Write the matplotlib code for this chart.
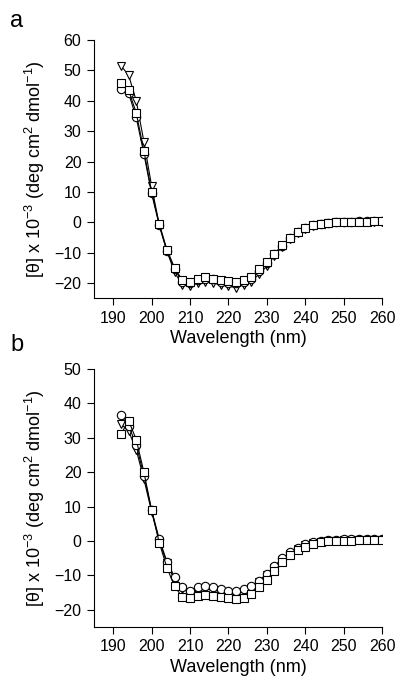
import numpy as np
import matplotlib
matplotlib.use('Agg')
import matplotlib.pyplot as plt

plt.rcParams['font.family'] = ['Liberation Sans', 'DejaVu Sans']

# Wavelength grid (nm), every 2 nm
wavelength = list(range(192, 262, 2))

# Panel a
a_circle = [44, 42.5, 34.5, 22.5, 9.5, -1, -9.5, -15.5, -19.5, -20, -19, -18.5, -18.8, -19.5,
            -20, -20, -19.5, -18.5, -16, -13.5, -10.5, -7.7, -5.2, -3.3, -2, -1, -0.4, -0.1,
            0.1, 0.2, 0.2, 0.3, 0.3, 0.3, 0.3]
a_square = [46, 43.5, 36, 23.5, 10, -0.5, -9, -15, -19, -19.5, -18.5, -18, -18.5, -19,
            -19.3, -19.5, -19, -18, -15.5, -13, -10.3, -7.5, -5, -3.2, -2, -1, -0.4, -0.2,
            0, 0.1, 0.1, 0.2, 0.2, 0.3, 0.3]
a_triangle = [51.5, 48.5, 40, 26.5, 12, -1, -9.5, -16.5, -20.5, -21, -20, -19.5, -20, -20.5,
              -21, -21.5, -20.5, -19.5, -17, -14.5, -11, -8, -5.5, -3.5, -2.2, -1.2, -0.5, -0.2,
              0, 0.1, 0.1, 0.2, 0.2, 0.2, 0.2]

# Panel b
b_circle = [36.5, 33.5, 28, 19, 9, 0.5, -6, -10.5, -13.5, -14.5, -13.5, -13, -13.5, -14,
            -14.5, -14.5, -14, -13, -11.5, -9.5, -7.3, -5, -3.3, -2, -1, -0.3, 0.1, 0.2,
            0.4, 0.6, 0.6, 0.6, 0.5, 0.5, 0.5]
b_square = [31, 35, 29.5, 20, 9, -0.5, -7.8, -13.2, -16.3, -16.7, -16, -15.7, -16, -16.3,
            -16.7, -17, -16.5, -15.3, -13.5, -11.2, -8.7, -6.2, -4.2, -2.7, -1.6, -0.9, -0.4, -0.1,
            0, 0.1, 0.1, 0.2, 0.2, 0.2, 0.2]
b_triangle = [34, 32, 26.5, 18, 8.5, 0, -6.5, -11.5, -14, -15, -14.5, -14, -14.3, -14.7,
              -15, -15.3, -14.8, -13.8, -12, -10, -7.8, -5.5, -3.7, -2.3, -1.3, -0.6, -0.2, 0,
              0.1, 0.2, 0.2, 0.3, 0.3, 0.3, 0.3]

# drawing order: triangles at the back, squares in front
panels = [
    ('a', [a_triangle, a_circle, a_square], (-25, 60), np.arange(-20, 61, 10)),
    ('b', [b_triangle, b_circle, b_square], (-25, 50), np.arange(-20, 51, 10)),
]
markers = ['v', 'o', 's']

fig = plt.figure(figsize=(4.0, 6.89), dpi=100)
rects = [[0.235, 0.567, 0.72, 0.375], [0.235, 0.090, 0.72, 0.3744]]
letter_y = [0.985, 0.515]

for (letter, series, ylim, yticks), rect, ly in zip(panels, rects, letter_y):
    ax = fig.add_axes(rect)
    for vals, m in zip(series, markers):
        ax.plot(wavelength, vals, color='black', linewidth=0.8, marker=m,
                markersize=6, markerfacecolor='white', markeredgecolor='black',
                markeredgewidth=0.8)
    ax.set_xlim(185, 260)
    ax.set_ylim(*ylim)
    ax.set_xticks(np.arange(190, 261, 10))
    ax.set_yticks(yticks)
    ax.spines['top'].set_visible(False)
    ax.spines['right'].set_visible(False)
    ax.tick_params(direction='out', length=5, width=0.8, labelsize=11.5, pad=4)
    ax.set_xlabel('Wavelength (nm)', fontsize=13, labelpad=3)
    ax.set_ylabel(r'[$\mathregular{\theta}$] x 10$^{\mathregular{-3}}$ (deg cm$^{\mathregular{2}}$ dmol$^{\mathregular{-1}}$)',
                  fontsize=13, labelpad=5)
    fig.text(0.025, ly, letter, fontsize=17, va='top', ha='left')

fig.savefig('out.png', dpi=100)
